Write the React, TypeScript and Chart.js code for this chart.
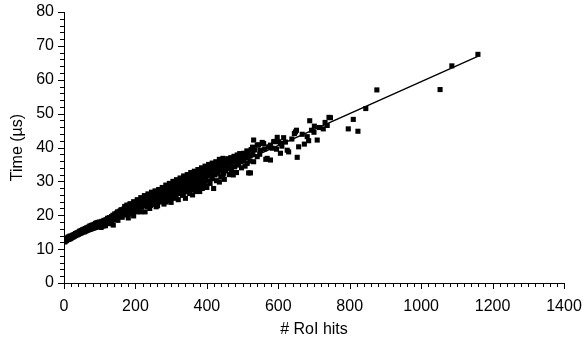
import React, { useEffect, useRef } from "react";
import { Chart, registerables } from "chart.js";

Chart.register(...registerables);

// Axis settings (values)
const xMin = 0;
const xMax = 1400;
const xMajorStep = 200;
const xMinorStep = 20;
const yMin = 0;
const yMax = 80;
const yMajorStep = 10;
const yMinorStep = 2;
const xTitle = "# RoI hits";
const yTitle = "Time (µs)";

const hitsLow: [number, number][] = [
  [0, 12.3], [1, 12.6], [2, 12.1], [3, 12.9], [4, 12.4], [5, 12.7], [6, 13.1], [7, 12.5], [8, 12.9], [9, 13.3],
  [10, 12.8], [11, 13.2], [12, 13.6], [13, 12.9], [14, 13.4], [15, 13.0], [16, 13.8], [17, 13.3], [18, 13.6], [19, 13.1],
  [20, 13.9], [21, 13.4], [22, 13.7], [24, 14.1], [25, 13.5], [26, 13.9], [28, 14.3], [29, 13.8], [30, 14.1], [32, 14.6],
  [33, 14.0], [34, 14.3], [36, 14.8], [37, 14.2], [38, 14.6], [40, 15.0], [41, 14.4], [42, 14.8], [44, 15.3], [45, 14.6],
  [46, 15.0], [48, 15.5], [49, 14.8], [50, 15.2], [52, 15.7], [53, 15.0], [54, 15.4], [56, 15.9], [57, 15.1], [58, 15.6],
  [60, 16.1], [61, 15.3], [62, 15.8], [64, 16.3], [65, 15.5], [66, 16.0], [68, 16.5], [69, 15.7], [70, 16.2], [72, 16.8],
  [73, 15.8], [74, 16.3], [76, 17.0], [77, 16.0], [78, 16.5], [80, 17.1], [81, 16.1], [82, 16.7], [84, 17.3], [85, 16.3],
  [86, 16.9], [88, 17.6], [89, 16.4], [90, 17.0], [92, 17.8], [93, 16.6], [94, 17.3], [96, 17.9], [97, 16.8], [98, 17.4],
  [100, 18.0],
];

const hitsMid: [number, number][] = [
  [101, 16.9], [103, 17.6], [104, 16.4], [106, 18.2], [107, 17.2], [109, 16.8], [110, 17.9], [112, 18.5], [113, 17.3], [115, 18.0],
  [116, 16.9], [118, 18.7], [119, 17.6], [121, 18.3], [122, 19.1], [124, 17.8], [125, 18.6], [127, 19.3], [128, 18.0], [130, 18.9],
  [131, 17.5], [133, 19.6], [134, 18.4], [136, 19.1], [137, 20.0], [138, 17.1], [139, 18.7], [141, 19.5], [142, 20.4], [144, 18.9],
  [145, 19.8], [147, 20.6], [148, 19.2], [150, 20.1], [151, 18.5], [153, 20.9], [154, 19.6], [156, 20.3], [157, 21.3], [159, 19.9],
  [160, 20.7], [162, 21.6], [163, 19.4], [165, 21.0], [166, 20.2], [168, 21.9], [169, 20.6], [171, 21.4], [172, 22.3], [174, 20.1],
  [175, 21.8], [177, 22.6], [178, 20.9], [180, 22.1], [181, 21.2], [183, 23.0], [184, 21.6], [186, 22.4], [187, 20.4], [189, 23.3],
  [190, 21.9], [192, 22.8], [193, 21.1], [195, 23.5], [196, 22.2], [198, 23.1], [199, 21.4], [201, 23.8], [202, 22.5], [204, 21.0],
  [205, 23.4], [207, 24.2], [208, 22.8], [210, 23.7], [211, 21.9], [213, 24.5], [214, 23.0], [216, 24.0], [217, 22.4], [219, 24.9],
  [220, 23.4], [222, 24.3], [223, 22.7], [225, 25.1], [226, 23.7], [227, 21.0], [228, 24.6], [230, 23.1], [231, 25.4], [233, 24.0],
  [234, 22.6], [236, 25.0], [237, 23.5], [239, 25.8], [240, 24.3], [242, 22.9], [243, 25.3], [245, 24.6], [246, 26.1], [248, 23.4],
  [249, 25.0],
];

const hitsHigh: [number, number][] = [
  [251, 26.3], [252, 24.1], [254, 25.5], [255, 23.2], [257, 26.6], [258, 24.8], [260, 25.9], [261, 23.7], [263, 27.0], [264, 25.1],
  [266, 26.2], [267, 24.4], [269, 27.3], [270, 25.6], [272, 23.9], [273, 26.7], [275, 27.6], [276, 25.0], [278, 26.4], [279, 24.6],
  [281, 27.9], [282, 26.0], [284, 27.2], [285, 24.9], [287, 28.3], [288, 26.5], [290, 25.4], [291, 27.6], [293, 28.6], [294, 26.1],
  [296, 27.3], [297, 25.0], [299, 28.9], [300, 26.8], [302, 27.9], [303, 25.6], [305, 29.2], [306, 27.2], [308, 28.3], [309, 26.0],
  [311, 29.5], [312, 27.6], [314, 25.3], [315, 28.7], [317, 29.8], [318, 27.0], [320, 28.4], [321, 26.4], [323, 30.1], [324, 27.9],
  [326, 29.0], [327, 26.7], [329, 30.4], [330, 28.3], [332, 25.9], [333, 29.4], [335, 30.7], [336, 27.7], [338, 28.9], [339, 26.9],
  [341, 31.0], [342, 29.1], [344, 27.5], [345, 30.1], [347, 31.3], [348, 28.4], [350, 29.6], [351, 27.2], [353, 31.6], [354, 28.8],
  [356, 30.4], [357, 27.6], [359, 31.9], [360, 29.3], [362, 30.7], [363, 28.1], [365, 32.2], [366, 29.8], [368, 27.4], [369, 31.1],
  [371, 32.5], [372, 29.0], [374, 30.4], [375, 28.5], [377, 32.8], [378, 30.0], [380, 31.5], [381, 28.9], [383, 33.1], [384, 30.6],
  [386, 27.9], [387, 31.9], [389, 33.4], [390, 29.5], [392, 31.0], [393, 29.0], [395, 33.7], [396, 30.3], [398, 32.3], [399, 28.6],
];

const hitsUpper: [number, number][] = [
  [401, 32.9], [403, 30.1], [405, 34.0], [407, 31.6], [409, 29.4], [411, 33.3], [413, 34.6], [415, 30.8], [417, 32.5], [419, 27.9],
  [421, 34.9], [423, 31.9], [425, 33.7], [427, 30.2], [429, 35.3], [431, 32.4], [433, 34.2], [435, 29.8], [437, 35.6], [439, 31.3],
  [441, 33.5], [443, 36.0], [445, 32.0], [447, 32.4], [449, 30.6], [451, 36.3], [453, 33.1], [455, 35.0], [457, 36.3], [459, 36.7],
  [461, 33.8], [463, 32.0], [466, 33.8], [467, 37.0], [469, 33.0], [471, 35.9], [474, 31.9], [476, 37.4], [478, 34.3], [480, 37.3],
  [483, 32.6], [485, 37.8], [487, 35.1], [489, 34.8], [492, 38.2], [494, 35.8], [497, 34.0], [499, 37.2], [502, 36.1], [503, 38.3],
  [507, 34.5], [509, 36.9], [512, 39.0], [513, 35.3], [517, 32.5], [519, 37.6], [522, 32.5], [524, 39.4], [527, 39.2], [529, 38.0],
];

const hitsFill: [number, number][] = [
  [262, 22.8], [286, 23.9], [298, 24.3], [305, 27.8], [310, 25.0], [318, 29.3], [331, 29.9], [334, 26.0], [343, 30.8], [352, 30.1],
  [352, 26.4], [364, 31.4], [370, 27.0], [376, 31.9], [385, 32.4], [388, 28.0], [394, 32.0], [404, 33.6], [412, 32.0], [420, 33.4],
  [428, 34.1], [436, 33.2], [444, 34.7], [452, 34.2], [460, 35.6], [468, 35.3], [475, 36.2], [482, 35.9], [490, 36.9], [498, 36.0],
  [506, 37.5], [515, 38.1], [521, 36.0], [528, 40.1], [535, 39.3], [548, 38.0], [562, 39.6], [583, 39.8], [597, 43.0], [610, 40.4],
  [620, 41.6], [638, 42.5], [667, 43.9], [673, 41.0], [693, 45.1], [715, 45.9], [731, 47.4],
];

const hitsEdges: [number, number][] = [
  [150, 21.0], [160, 21.6], [170, 22.6], [176, 23.0], [185, 23.4], [195, 24.0], [205, 24.6], [215, 25.2], [225, 25.8], [235, 26.3],
  [245, 26.8], [255, 27.2], [265, 27.6], [275, 28.2], [285, 28.9], [295, 29.4], [305, 30.0], [315, 30.5], [325, 31.0], [335, 31.6],
  [345, 32.0], [355, 32.6], [365, 33.0], [375, 33.5], [385, 34.0], [395, 34.5], [405, 35.0], [415, 35.4], [425, 35.8], [435, 36.5],
  [445, 36.8], [180, 19.2], [195, 19.8], [215, 21.0], [240, 22.0], [258, 22.5], [280, 23.3], [300, 23.8], [320, 24.6], [340, 25.0],
  [360, 26.0], [380, 27.0], [400, 28.2],
];

const hitsOutliers: [number, number][] = [
  [531, 42.2], [531, 35.8], [541, 40.7], [541, 37.3], [545, 40.8], [550, 39.2], [555, 41.5], [559, 41.2], [565, 36.5], [569, 36.8],
  [573, 40.2], [578, 40.7], [578, 36.3], [587, 41.7], [590, 41.8], [595, 39.5], [601, 41.7], [606, 38.3], [606, 41.2], [615, 42.9],
  [625, 39.2], [629, 38.7], [645, 44.1], [648, 44.6], [651, 45.1], [653, 37.1], [657, 40.2], [681, 43.2], [685, 42.0], [688, 47.9],
  [700, 44.5], [701, 46.3], [709, 42.2], [726, 45.5], [737, 46.5], [742, 48.9], [746, 48.8], [796, 45.5], [810, 48.3], [823, 44.8],
  [845, 51.5], [876, 57.0], [1053, 57.1], [1086, 64.1], [1159, 67.5],
];

// Fitted trend line end points
const fitLine: [number, number][] = [
  [0, 12.3],
  [1160, 67.0],
];

const toPoints = (arr: [number, number][]) => arr.map(([x, y]) => ({ x, y }));

const minorTicksPlugin = {
  id: "minorTicks",
  afterDraw(chart: any) {
    const { ctx, chartArea } = chart;
    const xs = chart.scales.x;
    const ys = chart.scales.y;
    ctx.save();
    ctx.strokeStyle = "#000";
    ctx.lineWidth = 1;
    ctx.beginPath();
    for (let v = xMin; v <= xMax + 1e-6; v += xMinorStep) {
      const px = Math.round(xs.getPixelForValue(v)) + 0.5;
      const len = Math.abs(v % xMajorStep) < 1e-6 ? 6 : 4;
      ctx.moveTo(px, chartArea.bottom);
      ctx.lineTo(px, chartArea.bottom + len);
    }
    for (let v = yMin; v <= yMax + 1e-6; v += yMinorStep) {
      const py = Math.round(ys.getPixelForValue(v)) + 0.5;
      const len = Math.abs(v % yMajorStep) < 1e-6 ? 6 : 4;
      ctx.moveTo(chartArea.left, py);
      ctx.lineTo(chartArea.left - len, py);
    }
    ctx.stroke();
    ctx.restore();
  },
};

export default function App() {
  const ref = useRef<HTMLCanvasElement>(null);
  useEffect(() => {
    if (!ref.current) return;
    const font = { family: "'Liberation Sans', Arial, sans-serif", size: 16 };
    const scatterData = [
      ...toPoints(hitsLow),
      ...toPoints(hitsMid),
      ...toPoints(hitsHigh),
      ...toPoints(hitsUpper),
      ...toPoints(hitsFill),
      ...toPoints(hitsEdges),
      ...toPoints(hitsOutliers),
    ];
    const chart = new Chart(ref.current, {
      type: "scatter",
      data: {
        datasets: [
          {
            type: "scatter",
            label: "measurements",
            data: scatterData,
            pointStyle: "rect",
            pointRadius: 3.6,
            pointHoverRadius: 3.6,
            borderWidth: 0,
            backgroundColor: "#000",
            borderColor: "#000",
          },
          {
            type: "line",
            label: "fit",
            data: toPoints(fitLine),
            borderColor: "#000",
            borderWidth: 1.3,
            pointRadius: 0,
            fill: false,
          } as any,
        ],
      },
      options: {
        animation: false,
        responsive: true,
        maintainAspectRatio: false,
        layout: { padding: { top: 12, right: 19, left: 0, bottom: 0 } },
        plugins: { legend: { display: false }, tooltip: { enabled: false } },
        scales: {
          x: {
            type: "linear",
            min: xMin,
            max: xMax,
            ticks: {
              stepSize: xMajorStep,
              font,
              color: "#000",
              padding: 14,
              maxRotation: 0,
              callback: (v: any) => String(v),
            },
            grid: { display: false, drawTicks: false },
            border: { display: true, color: "#000", width: 1 },
            title: { display: true, text: xTitle, font, color: "#000", padding: { top: 4, bottom: 8 } },
            afterFit: (s: any) => {
              s.height = 64;
              s.paddingLeft = 0;
              s.paddingRight = 0;
              s.paddingTop = 0;
              s.paddingBottom = 0;
            },
          },
          y: {
            type: "linear",
            min: yMin,
            max: yMax,
            ticks: {
              stepSize: yMajorStep,
              font,
              color: "#000",
              padding: 10,
              callback: (v: any) => String(v),
            },
            grid: { display: false, drawTicks: false },
            border: { display: true, color: "#000", width: 1 },
            title: { display: true, text: yTitle, font, color: "#000", padding: { top: 8, bottom: 4 } },
            afterFit: (s: any) => {
              s.width = 64;
              s.paddingLeft = 0;
              s.paddingRight = 0;
              s.paddingTop = 0;
              s.paddingBottom = 0;
            },
          },
        },
      },
      plugins: [minorTicksPlugin],
    });
    return () => chart.destroy();
  }, []);
  return (
    <div style={{ position: "absolute", left: 0, top: 0, width: 583, height: 347 }}>
      <canvas ref={ref} />
    </div>
  );
}
